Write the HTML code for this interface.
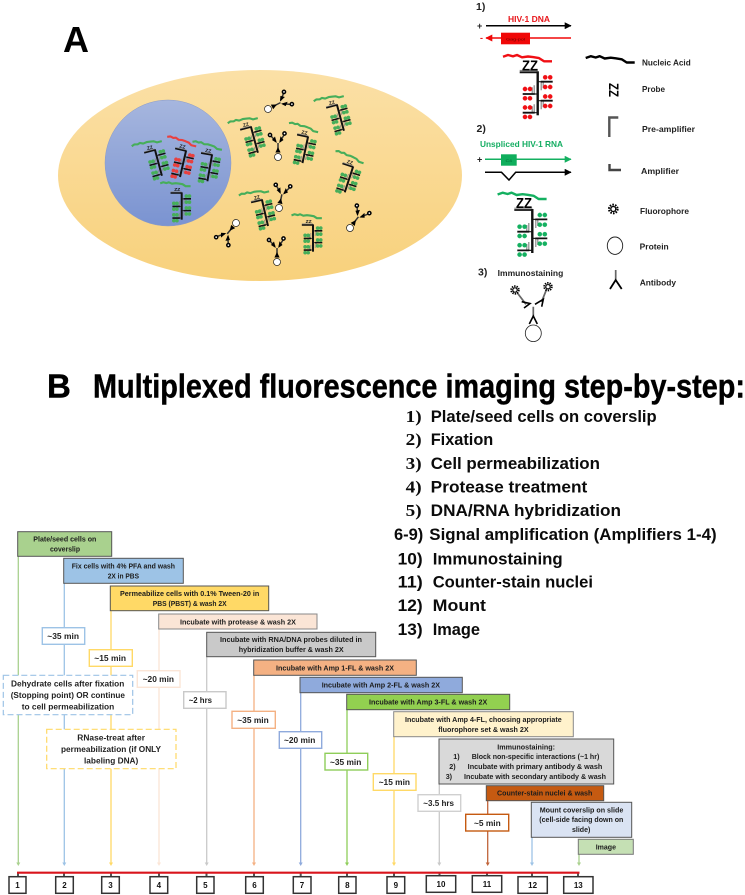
<!DOCTYPE html>
<html><head><meta charset="utf-8"><style>
html,body{margin:0;padding:0;background:#fff}
svg{display:block;filter:blur(.3px)}
text{font-family:"Liberation Sans",sans-serif;font-weight:bold;fill:#1c1c1c}
.b text{font-size:7.2px}
.m text{font-size:8.6px;fill:#222}
.n text{font-size:8px;text-anchor:middle;fill:#111}
.l text{font-size:17px;fill:#0b0b0b}
.s{font-family:"Liberation Serif",serif;fill:#222}
.g text{font-size:8.4px;fill:#222}
.cell{--d:1.5;--w:2.5;--v:3.2}
.ln{stroke-width:var(--w,1.8)}
.vl{stroke-width:var(--v,2.4)}
.dt circle{stroke:currentColor;stroke-width:var(--d,.2)}
</style></head><body>
<svg xmlns="http://www.w3.org/2000/svg" width="745" height="895" viewBox="0 0 745 895">
<defs>
<linearGradient id="c1" x1="0" y1="0" x2="0" y2="1"><stop offset="0" stop-color="#fbe0a6"/><stop offset="1" stop-color="#f8d17c"/></linearGradient>
<linearGradient id="c2" x1="0" y1="0" x2="0" y2="1"><stop offset="0" stop-color="#a6b6de"/><stop offset="1" stop-color="#7a93d1"/></linearGradient>
<path id="a" fill="none" stroke="currentColor" stroke-linejoin="round" d="M-34.7-15.5l5-1.8 5 1.3 4-1.3 5 2.3 6-.8 5 .6 6 1 5 3.2 8 0"/>
<g id="t">
<g stroke="#888" stroke-width="1.2" fill="none">
<path d="M-18-1.8H0M3.5 9.4V18M5.5 9.4V16M3.5 28.4V37M5.5 28.4V35M-3.5 21.7V13M-5.5 21.7V15M-3.5 40.4V32M-5.5 40.4V34"/>
<path d="M0 9.4H3.5M0 28.4H3.5M0 21.7H-3.5M0 40.4H-3.5" stroke="#222"/>
</g>
<g class="dt" fill="currentColor">
<circle cx="7.5" cy="5" r="2.2"/><circle cx="12.5" cy="5" r="2.2"/><circle cx="7.5" cy="14.7" r="2.2"/><circle cx="12.5" cy="14.7" r="2.2"/>
<circle cx="7.5" cy="24.2" r="2.2"/><circle cx="12.5" cy="24.2" r="2.2"/><circle cx="7.5" cy="33.7" r="2.2"/><circle cx="12.5" cy="33.7" r="2.2"/>
<circle cx="-12.7" cy="16.7" r="2.2"/><circle cx="-7.7" cy="16.7" r="2.2"/><circle cx="-12.7" cy="26" r="2.2"/><circle cx="-7.7" cy="26" r="2.2"/>
<circle cx="-12.7" cy="35.2" r="2.2"/><circle cx="-7.7" cy="35.2" r="2.2"/><circle cx="-12.7" cy="44.6" r="2.2"/><circle cx="-7.7" cy="44.6" r="2.2"/>
</g>
<g stroke="#111" fill="none">
<path class="ln" d="M-18 0H0"/><path class="vl" d="M0-1V43"/>
<path class="ln" d="M3 9.4H15M3 28.4H15M-15 21.7H-3M-15 40.4H-3"/>
</g>
</g>
<g id="f"><circle r="3.3" fill="none" stroke="#000" stroke-width="1.6" stroke-dasharray="1.2 .9"/><circle r="1.9" fill="#fff" stroke="#000" stroke-width="1"/></g>
<g id="ab">
<path d="M0-8V-14M-2-15.5L-7-21M2-15.5L6-22" stroke="#333" stroke-width="1.5" fill="none"/>
<path d="M-2.6-4.5L0-10 2.6-4.5ZM-1.2-14L-6-17-3-20.5ZM1.2-14L5.5-17 2.5-20.8Z" fill="#000"/>
<circle r="3.5" fill="#fff" stroke="#222" stroke-width=".7"/>
<circle cx="-8" cy="-22" r="1.6" fill="#fff" stroke="#000" stroke-width="1.5"/>
<circle cx="6.5" cy="-23.5" r="1.6" fill="#fff" stroke="#000" stroke-width="1.5"/>
</g>
<marker id="mk" viewBox="0 0 10 10" refX="9" refY="5" markerWidth="7" markerHeight="7" markerUnits="userSpaceOnUse" orient="auto"><path d="M0 0L10 5 0 10Z" fill="#000"/></marker>
<marker id="mr" viewBox="0 0 10 10" refX="9" refY="5" markerWidth="7" markerHeight="7" markerUnits="userSpaceOnUse" orient="auto"><path d="M0 0L10 5 0 10Z" fill="#f00808"/></marker>
<marker id="mg" viewBox="0 0 10 10" refX="9" refY="5" markerWidth="7" markerHeight="7" markerUnits="userSpaceOnUse" orient="auto"><path d="M0 0L10 5 0 10Z" fill="#14b060"/></marker>
</defs>

<!-- Panel A -->
<text x="63" y="52" style="font-size:36px;fill:#000">A</text>
<ellipse cx="260" cy="175.5" rx="202" ry="105.5" fill="url(#c1)"/>
<circle cx="168" cy="163" r="63" fill="url(#c2)" stroke="#8b9bc6" stroke-width=".5"/>

<g class="cell" stroke-width="3.4">
<g transform="translate(155 150) rotate(-15) scale(.62)" color="#46ae5a"><use href="#t"/><use href="#a"/><text x="-12" y="-3" style="font-size:8px">ZZ</text></g>
<g transform="translate(186 151) rotate(13) scale(.62)" color="#e8403f"><use href="#t"/><use href="#a"/><text x="-12" y="-3" style="font-size:8px">ZZ</text></g>
<g transform="translate(212 155) rotate(10) scale(.62)" color="#46ae5a"><use href="#t"/><use href="#a"/><text x="-12" y="-3" style="font-size:8px">ZZ</text></g>
<g transform="translate(181.7 193) scale(.62)" color="#46ae5a"><use href="#t"/><use href="#a"/><text x="-12" y="-3" style="font-size:8px">ZZ</text></g>
<g transform="translate(251 127) rotate(-15) scale(.62)" color="#46ae5a"><use href="#t"/><use href="#a"/><text x="-12" y="-3" style="font-size:8px">ZZ</text></g>
<g transform="translate(308 137) rotate(12) scale(.62)" color="#46ae5a"><use href="#t"/><use href="#a"/><text x="-12" y="-3" style="font-size:8px">ZZ</text></g>
<g transform="translate(337 105) rotate(-15) scale(.62)" color="#46ae5a"><use href="#t"/><use href="#a"/><text x="-12" y="-3" style="font-size:8px">ZZ</text></g>
<g transform="translate(353 167) rotate(18) scale(.62)" color="#46ae5a"><use href="#t"/><use href="#a"/><text x="-12" y="-3" style="font-size:8px">ZZ</text></g>
<g transform="translate(262 200) rotate(-13) scale(.62)" color="#46ae5a"><use href="#t"/><use href="#a"/><text x="-12" y="-3" style="font-size:8px">ZZ</text></g>
<g transform="translate(313 225) scale(.62)" color="#46ae5a"><use href="#t"/><use href="#a"/><text x="-12" y="-3" style="font-size:8px">ZZ</text></g>
</g>
<use href="#ab" transform="translate(268 109) rotate(63)"/>
<use href="#ab" transform="translate(278 157)"/>
<use href="#ab" transform="translate(279 208) rotate(12)"/>
<use href="#ab" transform="translate(236 223) rotate(219)"/>
<use href="#ab" transform="translate(277 262)"/>
<use href="#ab" transform="translate(350 228) rotate(37)"/>

<!-- Right legend -->
<g class="g">
<text x="476" y="10" style="font-size:10.5px">1)</text>
<text x="508" y="22" textLength="42" lengthAdjust="spacingAndGlyphs" style="fill:#e8161b">HIV-1 DNA</text>
<text x="477" y="29" style="font-size:9px">+</text>
<path d="M486 25.7H571" stroke="#000" stroke-width="1.5" marker-end="url(#mk)"/>
<text x="480" y="41" style="font-size:9px;fill:#e8161b">-</text>
<path d="M571 38H486" stroke="#f00808" stroke-width="1.5" marker-end="url(#mr)"/>
<rect x="501" y="32.7" width="29" height="11.6" fill="#f00808"/>
<text x="506" y="40.5" textLength="19" lengthAdjust="spacingAndGlyphs" style="font-size:4px;font-weight:normal;fill:#600">Gag-pol</text>

<g transform="translate(537.7 72.3)" color="#f00f14" stroke-width="2.4"><use href="#t"/><use href="#a"/></g>
<text x="522" y="70.5" textLength="16" lengthAdjust="spacingAndGlyphs" style="font-size:15px;fill:#000">ZZ</text>

<text x="476.5" y="132" style="font-size:10.5px">2)</text>
<text x="480" y="147" textLength="83" lengthAdjust="spacingAndGlyphs" style="fill:#14ad62">Unspliced HIV-1 RNA</text>
<text x="477" y="162.5" style="font-size:9px">+</text>
<path d="M485 159.3H571" stroke="#14b060" stroke-width="1.5" marker-end="url(#mg)"/>
<rect x="501" y="154.3" width="15.7" height="11.4" fill="#0fae5c"/>
<text x="505.5" y="162" textLength="6.5" lengthAdjust="spacingAndGlyphs" style="font-size:4px;font-weight:normal;fill:#063">C4</text>
<path d="M485 172.3H501.5L509 180 515.7 172.3H571" stroke="#000" stroke-width="1.5" fill="none" marker-end="url(#mk)"/>

<g transform="translate(532.3 210)" color="#14b060" stroke-width="2.4"><use href="#t"/><use href="#a"/></g>
<text x="516" y="208" textLength="16" lengthAdjust="spacingAndGlyphs" style="font-size:15px;fill:#000">ZZ</text>

<text x="478" y="275.5" style="font-size:10.5px">3)</text>
<text x="497.7" y="276" textLength="65.6" lengthAdjust="spacingAndGlyphs">Immunostaining</text>
<ellipse cx="533.3" cy="333.3" rx="8" ry="8.3" fill="#fff" stroke="#222" stroke-width=".8"/>
<path d="M533.3 306.7V316M526 304.3L517 292.5M541.5 302L546.5 289.5" stroke="#666" stroke-width="1.7" fill="none"/>
<path d="M529.3 324L533.3 316 537.3 324M521.7 301.7L530 303.5 524 308M535 304.3L543.3 299.3 541.7 306.7" stroke="#000" stroke-width="1.6" fill="none"/>
<use href="#f" transform="translate(515 290) scale(1.15)"/>
<use href="#f" transform="translate(548 286.7) scale(1.15)"/>

<g color="#000" stroke-width="2.4"><use href="#a" transform="translate(620.4 73.5)"/></g>
<text x="642" y="65.5" textLength="48.7" lengthAdjust="spacingAndGlyphs">Nucleic Acid</text>
<text transform="translate(608 83) rotate(90)" x="0" y="-1" textLength="14" lengthAdjust="spacingAndGlyphs" style="font-size:14px;fill:#000">ZZ</text>
<text x="642" y="92" textLength="23" lengthAdjust="spacingAndGlyphs">Probe</text>
<path d="M609.3 137V117.5H618.3" stroke="#555" stroke-width="2.4" fill="none"/>
<text x="642" y="132" textLength="53" lengthAdjust="spacingAndGlyphs">Pre-amplifier</text>
<path d="M609.5 164V170H621" stroke="#444" stroke-width="2.4" fill="none"/>
<text x="641" y="174" textLength="38" lengthAdjust="spacingAndGlyphs">Amplifier</text>
<use href="#f" transform="translate(613.3 209) scale(1.3)"/>
<text x="640" y="214" textLength="49" lengthAdjust="spacingAndGlyphs">Fluorophore</text>
<ellipse cx="615" cy="245.7" rx="7.7" ry="8.7" fill="#fff" stroke="#222" stroke-width=".9"/>
<text x="639.7" y="249.5" textLength="29" lengthAdjust="spacingAndGlyphs">Protein</text>
<path d="M615.7 270V280" stroke="#666" stroke-width="1.7"/>
<path d="M610 289L615.7 280 621.7 289" stroke="#000" stroke-width="1.8" fill="none"/>
<text x="639.7" y="285.5" textLength="36.3" lengthAdjust="spacingAndGlyphs">Antibody</text>
</g>

<!-- Panel B headings -->
<text x="47" y="397.5" style="font-size:33px;fill:#000;stroke:#000;stroke-width:.4">B</text>
<text x="93" y="397.5" textLength="652" lengthAdjust="spacingAndGlyphs" style="font-size:33px;fill:#000;stroke:#000;stroke-width:.4">Multiplexed fluorescence imaging step-by-step:</text>

<g class="l">
<text class="s" x="405.7" y="422" textLength="16" lengthAdjust="spacingAndGlyphs">1)</text><text x="430.7" y="422" textLength="226" lengthAdjust="spacingAndGlyphs">Plate/seed cells on coverslip</text>
<text class="s" x="405.7" y="445" textLength="16" lengthAdjust="spacingAndGlyphs">2)</text><text x="430.7" y="445" textLength="62.6" lengthAdjust="spacingAndGlyphs">Fixation</text>
<text class="s" x="405.7" y="469" textLength="16" lengthAdjust="spacingAndGlyphs">3)</text><text x="430.7" y="469" textLength="169.3" lengthAdjust="spacingAndGlyphs">Cell permeabilization</text>
<text class="s" x="405.7" y="492.7" textLength="16" lengthAdjust="spacingAndGlyphs">4)</text><text x="430.7" y="492.7" textLength="156.6" lengthAdjust="spacingAndGlyphs">Protease treatment</text>
<text class="s" x="405.7" y="516" textLength="16" lengthAdjust="spacingAndGlyphs">5)</text><text x="430.7" y="516" textLength="190.3" lengthAdjust="spacingAndGlyphs">DNA/RNA hybridization</text>
<text x="394" y="540" textLength="29.3" lengthAdjust="spacingAndGlyphs">6-9)</text><text x="429.3" y="540" textLength="287.4" lengthAdjust="spacingAndGlyphs">Signal amplification (Amplifiers 1-4)</text>
<text x="397.7" y="564.3" textLength="25" lengthAdjust="spacingAndGlyphs">10)</text><text x="432.7" y="564.3" textLength="130" lengthAdjust="spacingAndGlyphs">Immunostaining</text>
<text x="397.7" y="587.7" textLength="25" lengthAdjust="spacingAndGlyphs">11)</text><text x="432.7" y="587.7" textLength="160.3" lengthAdjust="spacingAndGlyphs">Counter-stain nuclei</text>
<text x="397.7" y="611" textLength="25" lengthAdjust="spacingAndGlyphs">12)</text><text x="432.7" y="611" textLength="53.3" lengthAdjust="spacingAndGlyphs">Mount</text>
<text x="397.7" y="635" textLength="25" lengthAdjust="spacingAndGlyphs">13)</text><text x="432.7" y="635" textLength="47.3" lengthAdjust="spacingAndGlyphs">Image</text>
</g>

<!-- Vertical timeline arrows -->
<g stroke-width="1.3" fill="none">
<path d="M18.3 556V863" stroke="#a9d18e"/><path d="M64.3 583V863" stroke="#9dc3e6"/><path d="M111 610V863" stroke="#ffd966"/><path d="M159 629V863" stroke="#fbe5d6"/><path d="M206.7 656V863" stroke="#c9c9c9"/><path d="M254 675V863" stroke="#f4b183"/><path d="M300.7 692V863" stroke="#8faadc"/><path d="M347 709V863" stroke="#8fce5a"/><path d="M394 736V863" stroke="#ffd966"/><path d="M439.3 784V863" stroke="#c9c9c9"/><path d="M487.7 800V863" stroke="#c0643a"/><path d="M532 837V863" stroke="#9dc3e6"/><path d="M579 854V863" stroke="#a9d18e"/>
</g>
<path d="M16.3 862.5h4l-2 3.5z" fill="#a9d18e"/>
<path d="M62.3 862.5h4l-2 3.5z" fill="#9dc3e6"/>
<path d="M109 862.5h4l-2 3.5z" fill="#ffd966"/>
<path d="M157 862.5h4l-2 3.5z" fill="#fbe5d6"/>
<path d="M204.7 862.5h4l-2 3.5z" fill="#c9c9c9"/>
<path d="M252 862.5h4l-2 3.5z" fill="#f4b183"/>
<path d="M298.7 862.5h4l-2 3.5z" fill="#8faadc"/>
<path d="M345 862.5h4l-2 3.5z" fill="#8fce5a"/>
<path d="M392 862.5h4l-2 3.5z" fill="#ffd966"/>
<path d="M437.3 862.5h4l-2 3.5z" fill="#c9c9c9"/>
<path d="M485.7 862.5h4l-2 3.5z" fill="#c0643a"/>
<path d="M530 862.5h4l-2 3.5z" fill="#9dc3e6"/>
<path d="M577 862.5h4l-2 3.5z" fill="#a9d18e"/>

<!-- Step boxes -->
<g stroke="#555" stroke-width="1">
<rect x="17.7" y="531.7" width="94" height="24.6" fill="#a9d18e"/>
<rect x="63.7" y="558.3" width="119.6" height="25" fill="#9dc3e6"/>
<rect x="110.3" y="586" width="158.4" height="24.7" fill="#ffd966"/>
<rect x="158.7" y="614" width="158.3" height="15" fill="#fbe5d6" stroke="#888"/>
<rect x="206.7" y="632.3" width="169" height="24.4" fill="#c9c9c9"/>
<rect x="253.7" y="660" width="162.6" height="15.3" fill="#f4b183"/>
<rect x="300" y="677.3" width="162.3" height="15.4" fill="#8faadc"/>
<rect x="346.7" y="694.3" width="163" height="15.4" fill="#92d050"/>
<rect x="393.7" y="711.7" width="179.6" height="25" fill="#fff2cc" stroke="#888"/>
<rect x="439" y="739" width="174.7" height="45" fill="#d9d9d9"/>
<rect x="486.3" y="785.7" width="117.4" height="15" fill="#c55a11"/>
<rect x="531.3" y="802.3" width="100.4" height="35" fill="#dae3f3"/>
<rect x="578.3" y="839.3" width="55" height="15" fill="#c5e0b4" stroke="#777"/>
</g>
<g class="b">
<text x="33.3" y="541.5" textLength="63" lengthAdjust="spacingAndGlyphs">Plate/seed cells on</text>
<text x="50" y="551.5" textLength="30" lengthAdjust="spacingAndGlyphs">coverslip</text>
<text x="71.7" y="568.5" textLength="103.3" lengthAdjust="spacingAndGlyphs">Fix cells with 4% PFA and wash</text>
<text x="107.7" y="578.5" textLength="31.3" lengthAdjust="spacingAndGlyphs">2X in PBS</text>
<text x="120" y="595.8" textLength="139.3" lengthAdjust="spacingAndGlyphs">Permeabilize cells with 0.1% Tween-20 in</text>
<text x="152.7" y="605.8" textLength="74" lengthAdjust="spacingAndGlyphs">PBS (PBST) &amp; wash 2X</text>
<text x="180" y="624.5" textLength="116" lengthAdjust="spacingAndGlyphs">Incubate with protease &amp; wash 2X</text>
<text x="220" y="642.2" textLength="142" lengthAdjust="spacingAndGlyphs">Incubate with RNA/DNA probes diluted in</text>
<text x="238.7" y="652.2" textLength="105" lengthAdjust="spacingAndGlyphs">hybridization buffer &amp; wash 2X</text>
<text x="276" y="670.5" textLength="118" lengthAdjust="spacingAndGlyphs">Incubate with Amp 1-FL &amp; wash 2X</text>
<text x="321.7" y="687.5" textLength="118.3" lengthAdjust="spacingAndGlyphs">Incubate with Amp 2-FL &amp; wash 2X</text>
<text x="369" y="704.5" textLength="118.3" lengthAdjust="spacingAndGlyphs">Incubate with Amp 3-FL &amp; wash 2X</text>
<text x="405" y="721.8" textLength="156.7" lengthAdjust="spacingAndGlyphs">Incubate with Amp 4-FL, choosing appropriate</text>
<text x="438.3" y="731.8" textLength="90.4" lengthAdjust="spacingAndGlyphs">fluorophore set &amp; wash 2X</text>
<text x="497.3" y="749.5" textLength="57.7" lengthAdjust="spacingAndGlyphs">Immunostaining:</text>
<text x="453.3" y="759.2">1)</text><text x="471.7" y="759.2" textLength="127.6" lengthAdjust="spacingAndGlyphs">Block non-specific interactions (~1 hr)</text>
<text x="449.3" y="769.2">2)</text><text x="467.7" y="769.2" textLength="134.6" lengthAdjust="spacingAndGlyphs">Incubate with primary antibody &amp; wash</text>
<text x="445.7" y="778.8">3)</text><text x="464" y="778.8" textLength="142" lengthAdjust="spacingAndGlyphs">Incubate with secondary antibody &amp; wash</text>
<text x="497" y="795.5" textLength="95.3" lengthAdjust="spacingAndGlyphs">Counter-stain nuclei &amp; wash</text>
<text x="539.7" y="812.5" textLength="83.6" lengthAdjust="spacingAndGlyphs">Mount coverslip on slide</text>
<text x="539.3" y="822.2" textLength="84" lengthAdjust="spacingAndGlyphs">(cell-side facing down on</text>
<text x="572" y="832" textLength="18.3" lengthAdjust="spacingAndGlyphs">slide)</text>
<text x="595.7" y="849.5" textLength="20.3" lengthAdjust="spacingAndGlyphs">Image</text>
</g>

<!-- Dashed boxes -->
<rect x="3.3" y="675.3" width="129.4" height="39.4" fill="#fff" stroke="#9dc3e6" stroke-width="1.2" stroke-dasharray="6 3"/>
<rect x="46.7" y="729.3" width="129.3" height="39.4" fill="#fff" stroke="#ffd966" stroke-width="1.2" stroke-dasharray="6 3"/>
<g class="m">
<text x="11" y="686.7" textLength="113.3" lengthAdjust="spacingAndGlyphs">Dehydrate cells after fixation</text>
<text x="10.7" y="698" textLength="114.3" lengthAdjust="spacingAndGlyphs">(Stopping point) OR continue</text>
<text x="21.7" y="709.3" textLength="92.6" lengthAdjust="spacingAndGlyphs">to cell permeabilization</text>
<text x="77.3" y="740.7" textLength="67.7" lengthAdjust="spacingAndGlyphs">RNase-treat after</text>
<text x="61" y="752" textLength="100" lengthAdjust="spacingAndGlyphs">permeabilization (if ONLY</text>
<text x="84" y="763.7" textLength="54.3" lengthAdjust="spacingAndGlyphs">labeling DNA)</text>
</g>

<!-- Time boxes -->
<g fill="#fff" stroke-width="1.4">
<rect x="42.3" y="627.7" width="42.4" height="16.6" stroke="#9dc3e6"/>
<rect x="89.3" y="649.7" width="43" height="16.6" stroke="#ffd966"/>
<rect x="137.3" y="670.7" width="42.7" height="16.6" stroke="#fbe5d6"/>
<rect x="183.7" y="691.7" width="42.3" height="16.6" stroke="#c9c9c9"/>
<rect x="232" y="711.3" width="43.3" height="17" stroke="#f4b183"/>
<rect x="279.3" y="731.7" width="42.4" height="16.6" stroke="#8faadc"/>
<rect x="325" y="753.3" width="42.7" height="16.7" stroke="#8fce5a"/>
<rect x="373.3" y="773.7" width="42.7" height="16.6" stroke="#ffd966"/>
<rect x="418" y="794.7" width="42.7" height="16.6" stroke="#d0d0d0"/>
<rect x="465.7" y="814.3" width="43" height="16.7" stroke="#c55a11"/>
</g>
<g class="m">
<text x="47.3" y="639" textLength="31.7" lengthAdjust="spacingAndGlyphs">~35 min</text>
<text x="94.3" y="661" textLength="31.7" lengthAdjust="spacingAndGlyphs">~15 min</text>
<text x="142.7" y="682" textLength="31.3" lengthAdjust="spacingAndGlyphs">~20 min</text>
<text x="188.7" y="703" textLength="23.3" lengthAdjust="spacingAndGlyphs">~2 hrs</text>
<text x="237.3" y="723" textLength="31.4" lengthAdjust="spacingAndGlyphs">~35 min</text>
<text x="284" y="743" textLength="31.3" lengthAdjust="spacingAndGlyphs">~20 min</text>
<text x="330" y="765" textLength="31.3" lengthAdjust="spacingAndGlyphs">~35 min</text>
<text x="378.7" y="785" textLength="31.3" lengthAdjust="spacingAndGlyphs">~15 min</text>
<text x="423.3" y="806" textLength="30.7" lengthAdjust="spacingAndGlyphs">~3.5 hrs</text>
<text x="474" y="826" textLength="26.7" lengthAdjust="spacingAndGlyphs">~5 min</text>
</g>

<!-- Axis -->
<path d="M18 873v4M64 873v4M111 873v4M159 873v4M206.5 873v4M254 873v4M300.7 873v4M347 873v4M394 873v4M439.5 873v4M487 873v4M532 873v4M578 873v4" stroke="#555" stroke-width="2"/>
<path d="M17 872.7H579.5" stroke="#d9141c" stroke-width="2.2"/>
<g fill="#fff" stroke="#333" stroke-width="1.5">
<rect x="9" y="876.7" width="17" height="16.6"/><rect x="55.7" y="876.7" width="17.6" height="16.6"/><rect x="101.7" y="876.7" width="17.6" height="16.6"/><rect x="150" y="876.7" width="17.7" height="16.6"/><rect x="196.7" y="876.7" width="17.3" height="16.6"/><rect x="245.7" y="876.7" width="17.6" height="16.6"/><rect x="293.3" y="876.7" width="17.7" height="16.6"/><rect x="338.7" y="876.7" width="17.3" height="16.6"/><rect x="387" y="876.7" width="17.7" height="16.6"/><rect x="426.3" y="875.7" width="29.4" height="16.6"/><rect x="472.3" y="875.7" width="29.4" height="16.6"/><rect x="518" y="876.7" width="29.3" height="16.6"/><rect x="563.7" y="876.7" width="29.3" height="16.6"/>
</g>
<g class="n">
<text x="17.5" y="888">1</text><text x="64.5" y="888">2</text><text x="110.5" y="888">3</text><text x="158.8" y="888">4</text><text x="205.3" y="888">5</text><text x="254.5" y="888">6</text><text x="302" y="888">7</text><text x="347.3" y="888">8</text><text x="395.8" y="888">9</text><text x="441" y="887">10</text><text x="487" y="887">11</text><text x="532.6" y="888">12</text><text x="578.3" y="888">13</text>
</g>
</svg>
</body></html>
